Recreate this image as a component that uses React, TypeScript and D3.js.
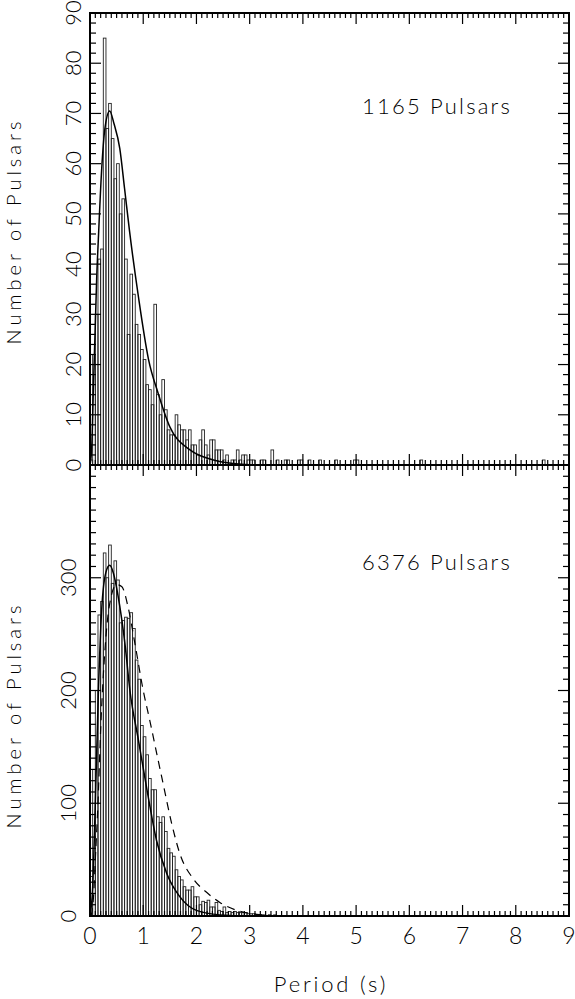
import React from 'react';
import * as d3 from 'd3';

// ---------- data ----------
const binWidth = 0.05; // seconds

// Top panel (1165 pulsars): counts per 0.05 s bin, starting at P = 0
const topCounts = [
  1, 22, 30, 41, 43, 85, 67, 72, 65, 57,
  60, 50, 53, 41, 26, 38, 34, 28, 26, 23,
  21, 16, 15, 12, 32, 14, 10, 17, 11, 7,
  6, 6, 10, 8, 7, 7, 5, 7, 4, 4,
  2, 5, 7, 4, 2, 5, 5, 3, 3, 3,
  1, 2, 0, 1, 1, 3, 1, 2, 2, 1,
  1, 1, 0, 0, 1, 1, 0, 0, 3, 0,
  1,
];
// isolated long-period pulsars (single counts) in the top panel
const topTailPeriods = [3.65, 3.7, 3.9, 3.95, 4.1, 4.3, 4.6, 4.95, 5.0, 6.2, 8.5];
const topTailCounts = [1, 1, 1, 1, 1, 1, 1, 1, 1, 1, 1];

// Bottom panel (6376 pulsars): counts per 0.05 s bin
const bottomCounts = [
  35, 130, 200, 267, 279, 322, 300, 329, 295, 315,
  298, 260, 262, 265, 264, 269, 255, 227, 210, 169,
  159, 143, 122, 112, 112, 88, 83, 88, 75, 60,
  56, 53, 41, 35, 32, 26, 23, 23, 26, 17,
  17, 10, 13, 12, 14, 8, 8, 12, 5, 4,
  8, 3, 4, 3, 4, 3, 3, 3, 3, 2,
  2, 2, 1, 1, 1, 1, 0, 1, 0, 1,
];

// Fitted curves
const topFitP = [0, 0.03, 0.063, 0.1, 0.125, 0.157, 0.22, 0.28, 0.37, 0.45, 0.56, 0.65, 0.74, 0.91, 1.1, 1.28, 1.5, 1.88, 2.32, 2.69, 3.2, 9];
const topFitV = [0, 3, 15, 28, 37, 45, 59, 67, 70.5, 68, 63, 55, 46.8, 33.5, 21, 14.3, 7.6, 3, 1, 0.3, 0, 0];

const botFitP = [0, 0.05, 0.1, 0.157, 0.22, 0.3, 0.37, 0.44, 0.52, 0.6, 0.66, 0.75, 0.91, 1.07, 1.25, 1.44, 1.69, 2.0, 2.44, 3.0, 9];
const botFitV = [0, 25, 100, 198, 272, 305, 311, 304, 286, 262, 240, 200, 156, 112, 67, 38, 17, 5, 1, 0, 0];

const botDashP = [0.02, 0.07, 0.1, 0.15, 0.2, 0.3, 0.4, 0.5, 0.6, 0.72, 0.85, 1.0, 1.13, 1.25, 1.38, 1.535, 1.69, 1.94, 2.19, 2.44, 2.76, 3.13, 3.5, 4.0];
const botDashV = [0, 20, 50, 100, 165, 248, 284, 294, 292, 273, 240, 200, 172, 145, 116, 82, 55, 33, 21, 12, 5, 1.5, 0.3, 0];

const xTickLabels = ['0', '1', '2', '3', '4', '5', '6', '7', '8', '9'];
const topYTickLabels = ['0', '10', '20', '30', '40', '50', '60', '70', '80', '90'];
const bottomYTickLabels = ['0', '100', '200', '300'];
const topNote = '1165 Pulsars';
const bottomNote = '6376 Pulsars';
const xTitle = 'Period (s)';
const yTitle = 'Number of Pulsars';

// ---------- layout ----------
const W = 575;
const H = 999;
const L = 90;
const R = 569;
const T = 13;
const M = 465;
const B = 916;
const FONT = "Lato, 'DejaVu Sans', sans-serif";

export default function App() {
  const x = d3.scaleLinear().domain([0, 9]).range([L, R]);
  const yTop = d3.scaleLinear().domain([0, 90]).range([M, T]);
  const yBot = d3.scaleLinear().domain([0, 400]).range([B, M]);
  const bw = x(binWidth) - x(0);

  const xMinor = d3.range(0, 91).map((i) => i / 10);
  const topMinor = d3.range(0, 46).map((i) => i * 2);
  const botMinor = d3.range(0, 41).map((i) => i * 10);

  const fitLine = (ys: d3.ScaleLinear<number, number>) =>
    d3
      .line<[number, number]>()
      .x((d) => x(d[0]))
      .y((d) => ys(d[1]))
      .curve(d3.curveMonotoneX);

  const topFit = fitLine(yTop)(topFitP.map((p, i) => [p, topFitV[i]]));
  const botFit = fitLine(yBot)(botFitP.map((p, i) => [p, botFitV[i]]));
  const botDash = fitLine(yBot)(botDashP.map((p, i) => [p, botDashV[i]]));

  const topBars = [
    ...topCounts.map((c, k) => ({ p: k * binWidth, c })),
    ...topTailPeriods.map((p, i) => ({ p, c: topTailCounts[i] })),
  ].filter((d) => d.c > 0);
  const botBars = bottomCounts.map((c, k) => ({ p: k * binWidth, c })).filter((d) => d.c > 0);

  const tickStroke = { stroke: '#000', strokeWidth: 1.2 };

  const panelTicks = (top: number, bottom: number, ys: d3.ScaleLinear<number, number>, minor: number[], majorStep: number, key: string) => (
    <g key={key}>
      {xMinor.map((v, i) => {
        const major = Math.abs(v - Math.round(v)) < 1e-6;
        const len = major ? 11 : 5;
        return (
          <g key={'x' + i}>
            <line x1={x(v)} x2={x(v)} y1={top} y2={top + len} {...tickStroke} />
            <line x1={x(v)} x2={x(v)} y1={bottom} y2={bottom - len} {...tickStroke} />
          </g>
        );
      })}
      {minor.map((v, i) => {
        const major = v % majorStep === 0;
        const len = major ? 11 : 6;
        return (
          <g key={'y' + i}>
            <line x1={L} x2={L + len} y1={ys(v)} y2={ys(v)} {...tickStroke} />
            <line x1={R} x2={R - len} y1={ys(v)} y2={ys(v)} {...tickStroke} />
          </g>
        );
      })}
    </g>
  );

  const textStyle = { fontFamily: FONT, fontWeight: 300, fill: '#000' } as React.CSSProperties;

  return (
    <svg width={W} height={H} style={{ position: 'absolute', left: 0, top: 0, background: '#fff' }}>
      <rect x={0} y={0} width={W} height={H} fill="#fff" />
      {/* histograms */}
      <g fill="none" stroke="#222" strokeWidth={0.9}>
        {topBars.map((d, i) => (
          <rect key={'t' + i} x={x(d.p)} y={yTop(d.c)} width={bw} height={yTop(0) - yTop(d.c)} />
        ))}
        {botBars.map((d, i) => (
          <rect key={'b' + i} x={x(d.p)} y={yBot(d.c)} width={bw} height={yBot(0) - yBot(d.c)} />
        ))}
      </g>
      {/* fits */}
      <path d={topFit || ''} fill="none" stroke="#000" strokeWidth={1.5} />
      <path d={botFit || ''} fill="none" stroke="#000" strokeWidth={1.5} />
      <path d={botDash || ''} fill="none" stroke="#000" strokeWidth={1.2} strokeDasharray="8,6" />
      {/* ticks */}
      {panelTicks(T, M, yTop, topMinor, 10, 'top')}
      {panelTicks(M, B, yBot, botMinor, 100, 'bot')}
      {/* frames */}
      <rect x={L} y={T} width={R - L} height={M - T} fill="none" stroke="#000" strokeWidth={2} />
      <rect x={L} y={M} width={R - L} height={B - M} fill="none" stroke="#000" strokeWidth={2} />
      {/* x tick labels */}
      {xTickLabels.map((t, i) => (
        <text key={'xl' + i} x={x(+t)} y={935} textAnchor="middle" dominantBaseline="central" fontSize={23} style={textStyle}>
          {t}
        </text>
      ))}
      {/* y tick labels */}
      {topYTickLabels.map((t, i) => (
        <text
          key={'ytl' + i}
          transform={`translate(72,${yTop(+t)}) rotate(-90)`}
          textAnchor="middle"
          dominantBaseline="central"
          fontSize={22}
          style={textStyle}
        >
          {t}
        </text>
      ))}
      {bottomYTickLabels.map((t, i) => (
        <text
          key={'ybl' + i}
          transform={`translate(67,${yBot(+t)}) rotate(-90)`}
          textAnchor="middle"
          dominantBaseline="central"
          fontSize={22}
          style={textStyle}
        >
          {t}
        </text>
      ))}
      {/* axis titles */}
      <text transform={`translate(21,231) rotate(-90)`} textAnchor="middle" fontSize={20} letterSpacing={4} style={textStyle}>
        {yTitle}
      </text>
      <text transform={`translate(21,715) rotate(-90)`} textAnchor="middle" fontSize={20} letterSpacing={4} style={textStyle}>
        {yTitle}
      </text>
      <text x={331} y={992} textAnchor="middle" fontSize={22} letterSpacing={2.8} style={textStyle}>
        {xTitle}
      </text>
      {/* annotations */}
      <text x={362} y={114} fontSize={22} letterSpacing={2.2} style={textStyle}>
        {topNote}
      </text>
      <text x={362} y={570} fontSize={22} letterSpacing={2.2} style={textStyle}>
        {bottomNote}
      </text>
    </svg>
  );
}
